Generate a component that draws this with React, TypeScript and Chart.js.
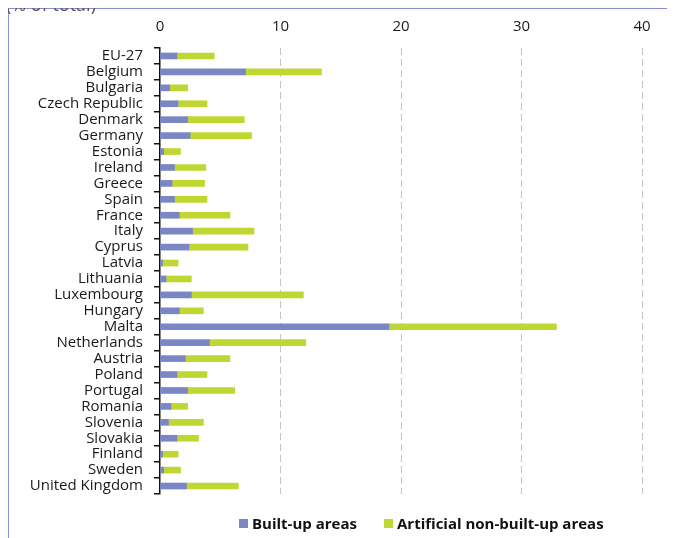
import React, { useEffect, useRef } from "react";
import { Chart, registerables } from "chart.js";

Chart.register(...registerables);

const categories = [
  "EU-27", "Belgium", "Bulgaria", "Czech Republic", "Denmark", "Germany", "Estonia",
  "Ireland", "Greece", "Spain", "France", "Italy", "Cyprus", "Latvia", "Lithuania",
  "Luxembourg", "Hungary", "Malta", "Netherlands", "Austria", "Poland", "Portugal",
  "Romania", "Slovenia", "Slovakia", "Finland", "Sweden", "United Kingdom",
];

const builtUp = [
  1.4, 7.1, 0.8, 1.5, 2.3, 2.5, 0.3, 1.2, 1.0, 1.2, 1.6, 2.7, 2.4, 0.2, 0.5,
  2.6, 1.6, 19.0, 4.1, 2.1, 1.4, 2.3, 0.9, 0.7, 1.4, 0.2, 0.3, 2.2,
];

const nonBuiltUp = [
  3.1, 6.3, 1.5, 2.4, 4.7, 5.1, 1.4, 2.6, 2.7, 2.7, 4.2, 5.1, 4.9, 1.3, 2.1,
  9.3, 2.0, 13.9, 8.0, 3.7, 2.5, 3.9, 1.4, 2.9, 1.8, 1.3, 1.4, 4.3,
];

const xTicks = [0, 10, 20, 30, 40];

const seriesNames = ["Built-up areas", "Artificial non-built-up areas"];
const BLUE = "#7a86c6";
const GREEN = "#bfd730";
const FONT = "'Open Sans', sans-serif";

export default function App() {
  const ref = useRef<HTMLCanvasElement | null>(null);

  useEffect(() => {
    document.documentElement.style.overflow = "hidden";
    const canvas = ref.current;
    if (!canvas) return;
    const chart = new Chart(canvas, {
      type: "bar",
      data: {
        labels: categories,
        datasets: [
          { label: seriesNames[0], data: builtUp, backgroundColor: BLUE, barThickness: 6 },
          { label: seriesNames[1], data: nonBuiltUp, backgroundColor: GREEN, barThickness: 6 },
        ],
      },
      options: {
        indexAxis: "y",
        responsive: false,
        animation: false,
        layout: { padding: { top: 0, left: 0, right: 33, bottom: 44 } },
        plugins: { legend: { display: false }, tooltip: { enabled: false } },
        scales: {
          x: {
            position: "top",
            stacked: true,
            min: 0,
            max: 40,
            afterBuildTicks: (scale: any) => {
              scale.ticks = xTicks.map((v) => ({ value: v }));
            },
            afterFit: (scale: any) => {
              scale.height = 39;
            },
            ticks: {
              padding: 12,
              color: "#1a1a1a",
              font: { family: FONT, size: 15 },
            },
            grid: {
              drawTicks: false,
              lineWidth: 1,
              color: (ctx: any) =>
                ctx.tick && ctx.tick.value === 0 ? "rgba(0,0,0,0)" : "#c4c4c4",
            },
            border: { display: false, dash: [7, 4] },
          },
          y: {
            stacked: true,
            afterFit: (scale: any) => {
              scale.width = 151;
            },
            ticks: {
              padding: 11,
              color: "#1a1a1a",
              autoSkip: false,
              font: { family: FONT, size: 15 },
            },
            grid: {
              offset: true,
              drawOnChartArea: false,
              drawTicks: true,
              tickLength: 6,
              color: "#111",
              lineWidth: 1.5,
            },
            border: { display: true, color: "#111", width: 1.5 },
          },
        },
      },
    });
    return () => chart.destroy();
  }, []);

  return (
    <div style={{ position: "relative", marginTop: 0 }}>
      <div
        style={{
          position: "absolute",
          left: -2,
          top: -12,
          height: 16,
          lineHeight: "16px",
          fontFamily: FONT,
          fontSize: 18,
          color: "#555",
          whiteSpace: "nowrap",
          zIndex: 2,
        }}
      >
        (% of total)
      </div>
      <div
        style={{
          position: "relative",
          width: 666,
          height: 529,
          borderTop: "1px solid #8a8fd2",
          borderLeft: "1px solid #8a8fd2",
        }}
      >
        <canvas ref={ref} width={666} height={529} style={{ display: "block", width: 666, height: 529 }} />
        {seriesNames.map((name, i) => (
          <div
            key={name}
            style={{
              position: "absolute",
              left: i === 0 ? 230 : 375,
              top: 502,
              height: 24,
              display: "flex",
              alignItems: "center",
              fontFamily: FONT,
              fontWeight: "bold",
              fontSize: 15,
              color: "#111",
              whiteSpace: "nowrap",
            }}
          >
            <span
              style={{
                display: "inline-block",
                width: 9,
                height: 9,
                background: i === 0 ? BLUE : GREEN,
                marginRight: 4,
              }}
            />
            {name}
          </div>
        ))}
      </div>
    </div>
  );
}
